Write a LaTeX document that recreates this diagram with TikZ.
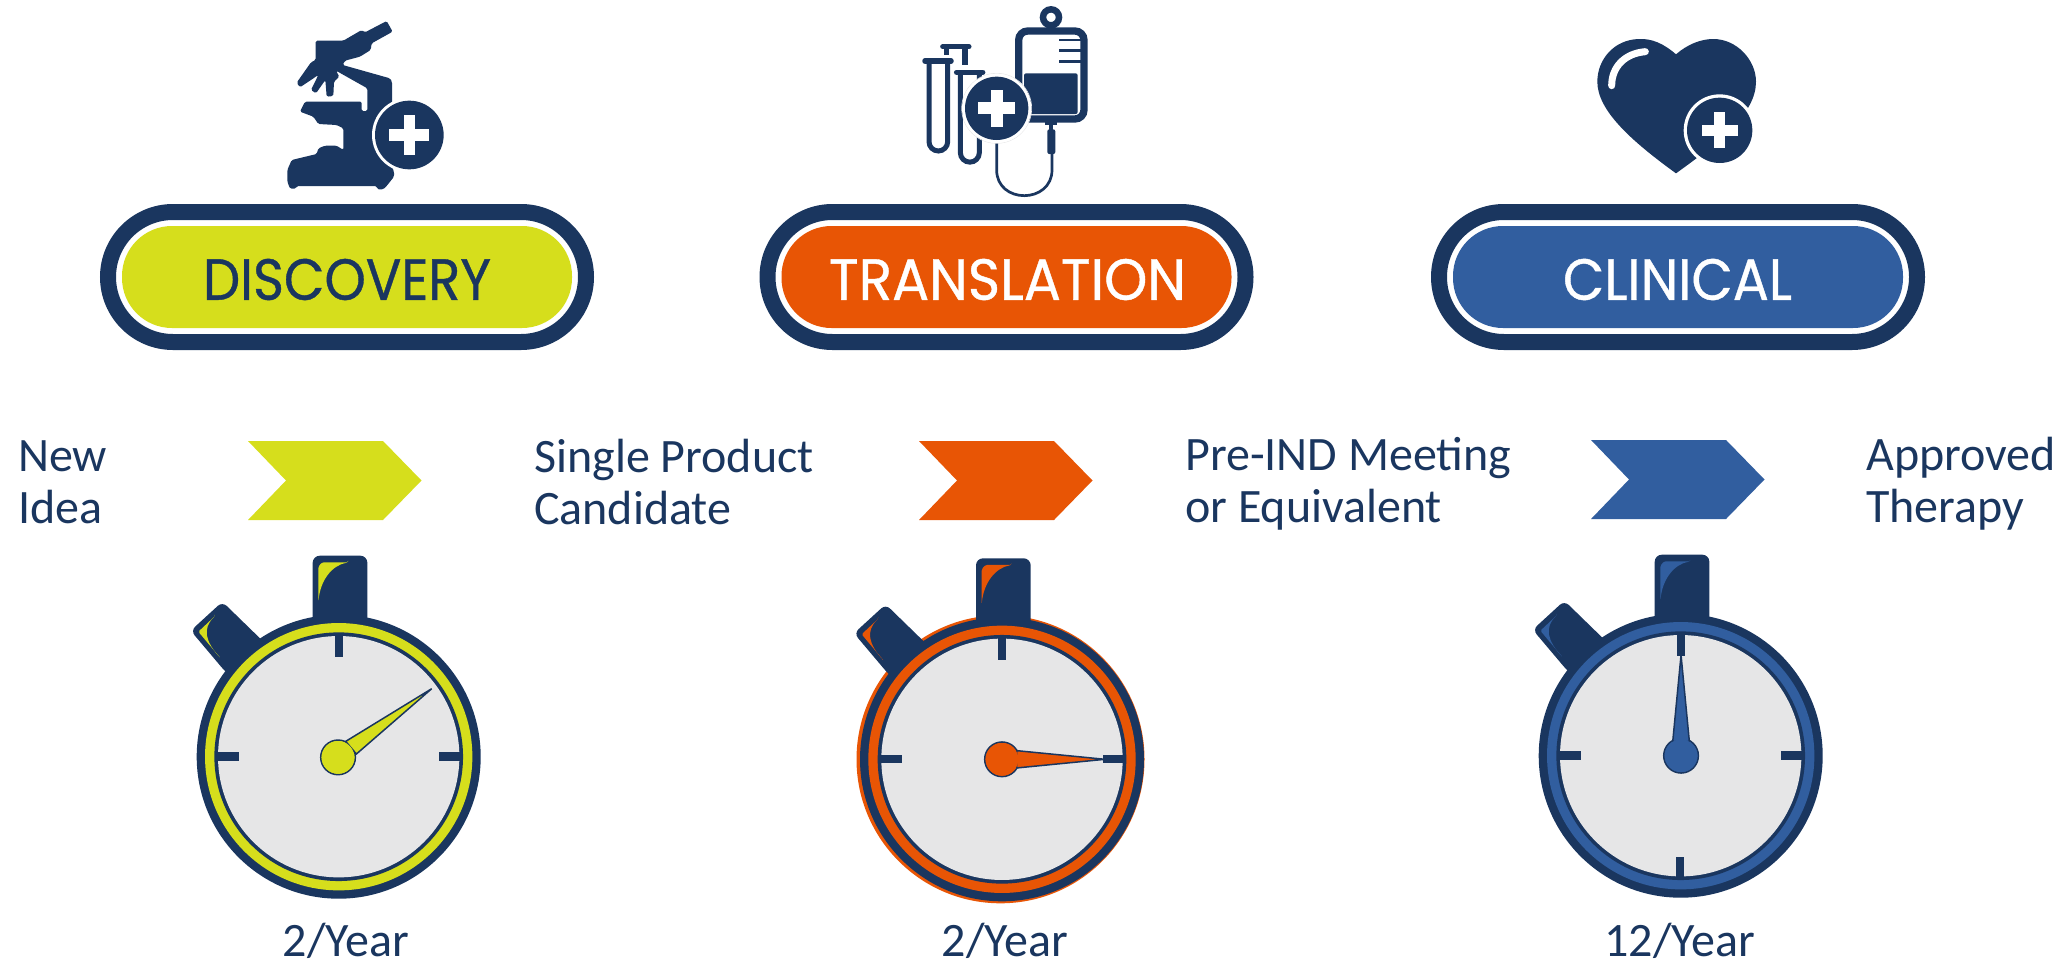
\documentclass[tikz,border=0pt]{standalone}
\usepackage{fontspec}
\usepackage{graphicx}
\setmainfont{Carlito}
\newfontfamily\pillfont[FakeBold=0.7]{Poppins}
\definecolor{navy}{HTML}{1A365F}
\definecolor{lime}{HTML}{D6DE1C}
\definecolor{rust}{HTML}{E85505}
\definecolor{cobalt}{HTML}{315E9F}
\definecolor{dial}{HTML}{E6E6E7}
\tikzset{
  ring/.style={draw=navy,line width=16pt,rounded corners=65pt},
  pillfill/.style={rounded corners=50pt},
  pilltext/.style={inner sep=0pt,anchor=center,font=\pillfont},
  body/.style={inner sep=0pt,anchor=west,align=left,text=navy,font=\fontsize{48}{52}\selectfont},
  rate/.style={inner sep=0pt,anchor=base,text=navy,font=\fontsize{48}{52}\selectfont},
}
% chevron: left x
\newcommand{\chev}[3]{\fill[#3] (#1,#2) -- ++(135,0) -- ++(38.5,39.5) -- ++(-38.5,39.5) -- ++(-135,0) -- ++(38,-39.5) -- cycle;}
% pill: left x, colour
\newcommand{\pill}[2]{%
  \draw[ring] (#1+8,212) rectangle (#1+486,342);
  \fill[pillfill,#2] (#1+22,226) rectangle (#1+472,328);}
% plus badge: cx,cy,R,ring R,half-length,half-width
\newcommand{\badge}[6]{%
  \fill[white] (#1,#2) circle (#4);
  \fill[navy] (#1,#2) circle (#3);
  \fill[white] (#1-#5,#2-#6) rectangle (#1+#5,#2+#6);
  \fill[white] (#1-#6,#2-#5) rectangle (#1+#6,#2+#5);}
% stopwatch: cx,cy,colour,tip,base1,base2,hub
\newcommand{\stopw}[7]{%
\begin{scope}[shift={(#1,#2)},scale=1/3]
  \fill[navy,rounded corners=7pt] (-78,-300) -- (-78,-603) -- (86,-603) -- (86,-300) -- cycle;
  \fill[navy,rounded corners=6pt] (-349,-465) -- (-444,-378) -- (-341,-256) -- (-300,-220) -- (-200,-320) -- cycle;
  \fill[#3,rounded corners=1.5pt] (29,-583) -- (-50,-583) -- (-61,-570) -- (-61,-465) .. controls (-55,-530) and (-20,-575) .. (29,-583) -- cycle;
  \fill[#3,rounded corners=1.5pt] (-371,-422) -- (-421,-375) -- (-354,-295) .. controls (-400,-345) and (-410,-385) .. (-371,-422) -- cycle;
  \fill[navy] (0,0) circle (426);
  \fill[#3] (0,0) circle (401);
  \fill[navy] (0,0) circle (373);
  \fill[dial] (0,0) circle (362);
  \fill[navy] (-12,-370) rectangle (12,-298);
  \fill[navy] (-365,-13) rectangle (-300,12);
  \fill[navy] (302,-13) rectangle (365,12);
  \filldraw[draw=navy,line width=1.5pt,fill=#3] (#7) circle (52);
  \filldraw[draw=navy,line width=1.5pt,fill=#3,line join=miter] (#5) -- (#4) -- (#6) -- cycle;
  \fill[#3] (#7) circle (49);
\end{scope}}
\begin{document}
\begin{tikzpicture}[x=1pt,y=-1pt]
\useasboundingbox (0,0) rectangle (2059,964);
% pills
\pill{100}{lime}
\pill{759.5}{rust}
\pill{1431}{cobalt}
\node[pilltext,text=navy] (discovery) at (347,279.5) {\resizebox{288pt}{41pt}{DISCOVERY}};
\node[pilltext,text=white] (translation) at (1007.5,279.5) {\resizebox{357pt}{41pt}{TRANSLATION}};
\node[pilltext,text=white] (clinical) at (1677.5,279.5) {\resizebox{229pt}{41pt}{CLINICAL}};
% chevrons
\chev{248}{441}{lime}
\chev{919}{441}{rust}
\chev{1591}{440}{cobalt}
% labels
\node[body] (newidea) at (18,482) {New\\Idea};
\node[body] (single) at (534,482.5) {Single Product\\Candidate};
\node[body] (preind) at (1185,484) {Pre-IND Meeting\\or Equivalent};
\node[body] (approved) at (1866,484) {Approved\\Therapy};
\node[rate] (r1) at (346,956) {2/Year};
\node[rate] (r2) at (1005,956) {2/Year};
\node[rate] (r3) at (1680,956) {12/Year};
% stopwatches
\fill[rust] (1000.5,759.3) circle (144);
\stopw{338.7}{756.7}{lime}{279,-204}{21,-46}{53,-8}{-2,2}
\stopw{1002}{759.3}{rust}{309,0}{44,-26}{44,26}{0,0}
\stopw{1680.7}{755.7}{cobalt}{1,-302}{-24,-42}{26,-42}{1,0}
\fill[navy] (1676,856.7) rectangle (1684.3,878.3);
% microscope
\begin{scope}[shift={(250,0)},scale=1/3]
  \fill[navy,rounded corners=1.5pt] (197,122) -- (280,122) -- (335,90) -- (345,97) -- (410,63) -- (428,95) -- (365,130) -- (362,150) -- (330,170) -- (285,182) -- (278,195) -- (420,235) -- (426,245) -- (426,500) -- (432,515) -- (432,530) -- (410,558) -- (400,568) -- (382,568) -- (380,558) -- (140,558) -- (138,566) -- (120,566) -- (112,545) -- (112,510) -- (125,480) -- (200,462) -- (205,445) -- (225,437) -- (260,437) -- (280,450) -- (280,385) -- (260,375) -- (205,372) -- (190,350) -- (150,335) -- (165,305) -- (335,305) -- (335,333) -- (352,333) -- (352,265) -- (258,212) -- (268,230) -- (252,245) -- (250,288) -- (230,290) -- (226,240) -- (198,280) -- (183,270) -- (205,225) -- (150,262) -- (140,248) -- (183,187) -- (197,180) -- cycle;
  \badge{478}{405}{103}{112}{60}{17}
\end{scope}
% IV bag and tubes
\begin{scope}[shift={(900,0)},scale=1/3]
  \draw[navy,line width=6.5pt] (453,52) circle (24);
  \draw[navy,line width=7.3pt,rounded corners=9pt] (356,93) rectangle (552,357);
  \fill[navy,rounded corners=2pt] (372,220) rectangle (533,342);
  \fill[navy] (478,117) rectangle (545,123);
  \fill[navy] (478,148) rectangle (545,157);
  \fill[navy] (478,181) rectangle (545,190);
  \fill[navy] (435,366) rectangle (472,375);
  \fill[navy] (447,375) rectangle (460,390);
  \fill[navy,rounded corners=2pt] (442,388) rectangle (466,462);
  \draw[navy,line width=2.7pt] (456,460) -- (456,510) .. controls (456,560) and (415,587) .. (373,587) .. controls (330,587) and (290,560) .. (290,510) -- (290,420);
  % tubes
  \draw[navy,line width=5pt,line cap=round] (128,140) -- (207,140);
  \fill[navy] (133,145) rectangle (148,165);
  \fill[navy] (185,145) rectangle (203,195);
  \draw[navy,line width=5pt] (87,185) -- (87,425) arc (180:0:28) -- (143,185);
  \draw[navy,line width=5.5pt,line cap=round] (75,183) -- (153,183);
  \draw[navy,line width=5pt] (181,220) -- (181,458) arc (180:0:28.5) -- (238,220);
  \draw[navy,line width=5.5pt,line cap=round] (170,217) -- (248,217);
  \draw[dial,line width=.6pt] (290,325) circle (105);
  \badge{290}{325}{95}{104}{55}{18}
\end{scope}
% heart
\begin{scope}[shift={(1570,20)},scale=1/3]
  \fill[navy] (318,103) .. controls (280,70) and (245,55) .. (205,57) .. controls (130,60) and (82,120) .. (82,185) .. controls (82,270) and (180,360) .. (318,460) .. controls (450,365) and (558,280) .. (558,185) .. controls (558,120) and (500,57) .. (430,57) .. controls (390,57) and (350,75) .. (318,103) -- cycle;
  \draw[white,line width=7pt,line cap=round] (125,197) .. controls (125,140) and (165,100) .. (226,95);
  \badge{449}{331}{98}{108}{54}{16}
\end{scope}
\end{tikzpicture}
\end{document}
